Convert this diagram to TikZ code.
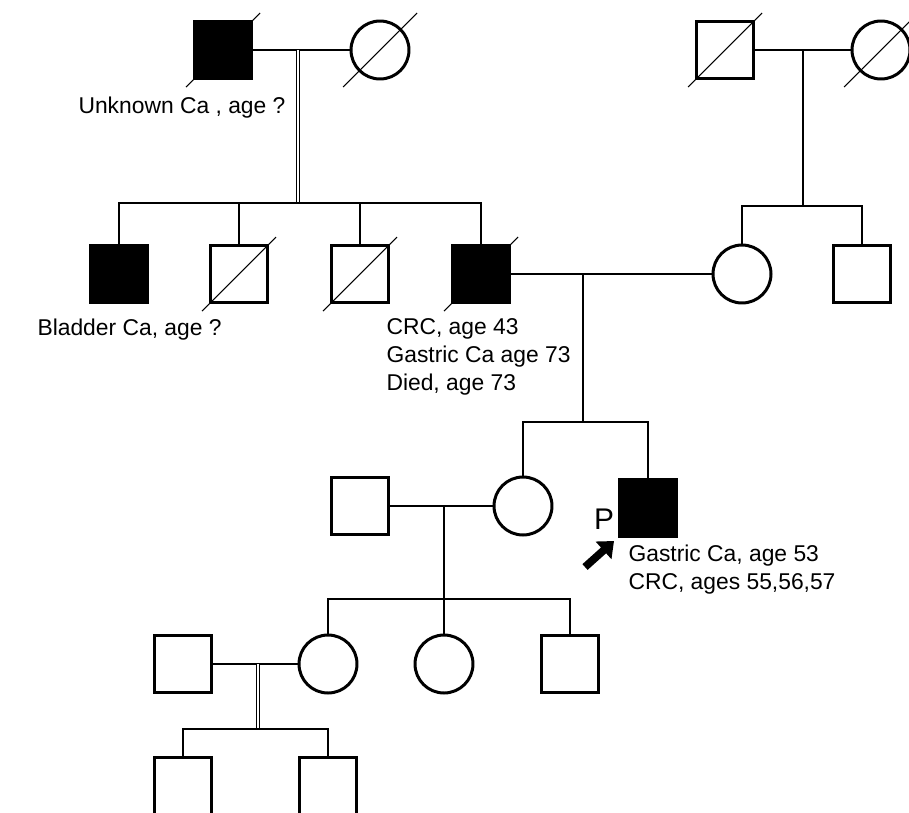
\documentclass[tikz,border=0pt]{standalone}
\usepackage{fontspec}
\setmainfont{Liberation Sans}
\usetikzlibrary{arrows.meta}

\begin{document}
\begin{tikzpicture}[x=0.02cm, y=-0.02cm, line width=0.6pt]
    \tikzstyle{person}=[draw=black, line width=1.7pt, inner sep=0pt]
    \tikzstyle{male}=[person, rectangle, minimum size=1.14cm]
    \tikzstyle{female}=[person, circle, minimum size=1.16cm]
    \tikzstyle{affected}=[fill=black]
    \tikzstyle{twin line}=[double, double distance=1.4pt, line width=0.5pt]
    \tikzstyle{annot}=[anchor=west, inner sep=0pt, align=left, font=\fontsize{13}{16}\selectfont]

    \useasboundingbox (0,0) rectangle (909,812);

    % generation I
    \node[male, affected] (I-1) at (223,50) {};
    \node[female] (I-2) at (380,50) {};
    \node[male] (I-3) at (725,50) {};
    \node[female] (I-4) at (881,50) {};

    % generation II
    \node[male, affected] (II-1) at (119,274) {};
    \node[male] (II-2) at (239,274) {};
    \node[male] (II-3) at (360,274) {};
    \node[male, affected] (II-4) at (481,274) {};
    \node[female] (II-5) at (742,274) {};
    \node[male] (II-6) at (862,274) {};

    % generation III
    \node[male] (III-1) at (360,506) {};
    \node[female] (III-2) at (523,506) {};
    \node[male, affected] (III-3) at (648,508) {};

    % generation IV
    \node[male] (IV-1) at (183,664) {};
    \node[female] (IV-2) at (328,664) {};
    \node[female] (IV-3) at (444,664) {};
    \node[male] (IV-4) at (570,664) {};

    % generation V
    \node[male] (V-1) at (183,786) {};
    \node[male] (V-2) at (328,786) {};

    % deceased
    \foreach \n in {I-1,I-2,I-3,I-4,II-2,II-3,II-4}
        \draw ([shift={(-37,37)}]\n.center) -- ([shift={(37,-37)}]\n.center);

    % marriages and sibships
    \coordinate (M1) at (298,50);
    \coordinate (S1) at (298,203);
    \draw (I-1) -- (I-2);
    \draw[twin line] (M1) -- (S1);
    \draw (II-1.north) |- (S1) -| (II-4.north);
    \draw (II-2.north) -- (II-2.north |- S1);
    \draw (II-3.north) -- (II-3.north |- S1);

    \coordinate (M2) at (803,50);
    \coordinate (S2) at (803,206);
    \draw (I-3) -- (I-4);
    \draw (M2) -- (S2);
    \draw (II-5.north) |- (S2) -| (II-6.north);

    \coordinate (M3) at (583,274);
    \coordinate (S3) at (583,422);
    \draw (II-4) -- (II-5);
    \draw (M3) -- (S3);
    \draw (III-2.north) |- (S3) -| (III-3.north);

    \coordinate (M4) at (444,506);
    \coordinate (S4) at (444,599);
    \draw (III-1) -- (III-2);
    \draw (M4) -- (S4);
    \draw (IV-2.north) |- (S4) -| (IV-4.north);
    \draw (IV-3.north) -- (IV-3.north |- S4);

    \coordinate (M5) at (258,664);
    \coordinate (S5) at (258,729);
    \draw (IV-1) -- (IV-2);
    \draw[twin line] (M5) -- (S5);
    \draw (V-1.north) |- (S5) -| (V-2.north);

    % proband
    \node[inner sep=0pt, font=\fontsize{17}{17}\selectfont] (P) at (604,519) {P};
    \coordinate (Ptail) at (585,567);
    \coordinate (Phead) at (614,541);
    \draw[line width=4.4pt, -{Triangle[width=13pt,length=8pt]}] (Ptail) -- (Phead);

    % notes
    \node[annot] (T1) at (78,108) {Unknown Ca , age ?};
    \node[annot] (T2) at (37,330) {Bladder Ca, age ?};
    \node[annot] (T3) at (386,357) {CRC, age 43\\Gastric Ca age 73\\Died, age 73};
    \node[annot] (T4) at (628,570) {Gastric Ca, age 53\\CRC, ages 55,56,57};
\end{tikzpicture}
\end{document}
